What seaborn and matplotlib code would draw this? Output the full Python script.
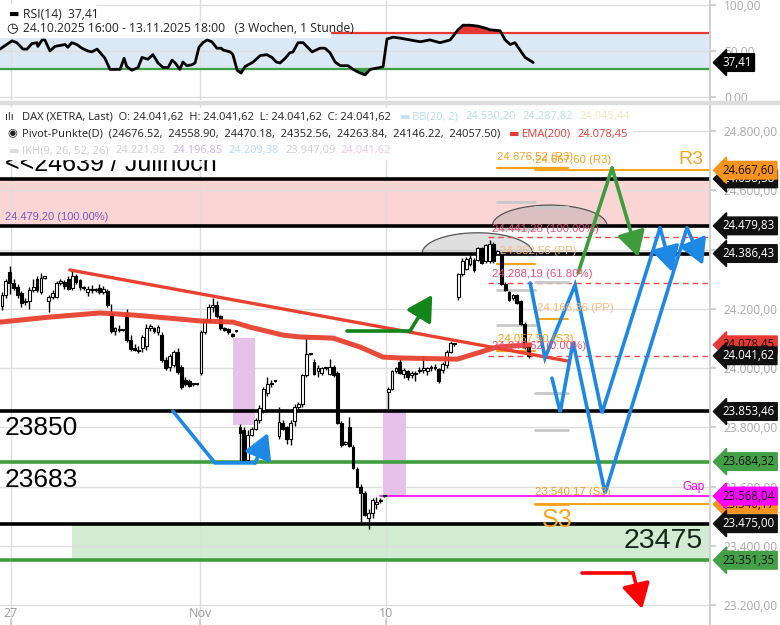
import numpy as np
import pandas as pd
import matplotlib
matplotlib.use("Agg")
import matplotlib.pyplot as plt
import matplotlib.transforms as mtrans
from matplotlib.patches import Rectangle, Polygon
import seaborn as sns

# hourly candles 24.10.2025 16:00 - 13.11.2025 18:00 (bar index = x)
opens = [24210, 24245, 24325, 24287, 24273, 24253, 24222, 24225, 24262, 24300,
         24257, 24305, 24225, 24240, 24240, 24288, 24292, 24302, 24270, 24310,
         24296, 24272, 24256, 24268, 24262, 24270, 24255, 24260, 24186, 24124,
         24132, 24128, 24186, 24095, 24068, 24062, 24068, 24075, 24135, 24134,
         24120, 24110, 24027, 24002, 24012, 24054, 24003, 23960, 23958, 23945,
         23947, 23983, 24122, 24160, 24205, 24213, 24175, 24135, 24132, 24115,
         24125, 23800, 23790, 23690, 23775, 23795, 23825, 23858, 23915, 23945,
         23955, 23770, 23815, 23800, 23760, 23820, 23870, 23880, 23975, 24046,
         24020, 23990, 23985, 24000, 23980, 24003, 23985, 23815, 23745, 23800,
         23735, 23660, 23600, 23580, 23495, 23510, 23540, 23550, 23567, 23920,
         23930, 23990, 24020, 23980, 23990, 23975, 23980, 23990, 23995, 23990,
         24000, 24005, 23998, 23995, 24010, 24055, 24080, 24240, 24318, 24335,
         24350, 24365, 24365, 24405, 24360, 24360, 24420, 24385, 24385, 24285,
         24255, 24235, 24245, 24225, 24150, 24070]
highs = [24255, 24300, 24345, 24300, 24285, 24260, 24235, 24275, 24300, 24312,
         24320, 24309, 24248, 24262, 24295, 24300, 24298, 24312, 24335, 24316,
         24302, 24278, 24276, 24280, 24270, 24285, 24276, 24266, 24215, 24140,
         24145, 24131, 24200, 24110, 24080, 24075, 24112, 24150, 24150, 24140,
         24145, 24120, 24036, 24046, 24060, 24066, 24010, 23970, 23964, 23950,
         23950, 24130, 24165, 24215, 24236, 24225, 24180, 24140, 24135, 24118,
         24127, 23812, 23800, 23790, 23800, 23830, 23875, 23935, 23970, 23960,
         23957, 23868, 23825, 23805, 23825, 23880, 23885, 23980, 24100, 24048,
         24030, 24010, 24005, 24005, 24030, 24010, 23990, 23820, 23755, 23835,
         23740, 23665, 23610, 23585, 23525, 23560, 23565, 23560, 23569, 23935,
         23995, 24005, 24030, 24000, 23995, 23990, 23990, 24005, 24040, 24005,
         24010, 24015, 24000, 24020, 24060, 24090, 24085, 24320, 24370, 24375,
         24380, 24372, 24410, 24410, 24418, 24432, 24425, 24400, 24390, 24290,
         24260, 24250, 24250, 24230, 24155, 24075]
lows = [24195, 24235, 24250, 24262, 24235, 24205, 24212, 24200, 24255, 24255,
        24250, 24300, 24190, 24232, 24235, 24280, 24268, 24262, 24264, 24284,
        24264, 24265, 24244, 24254, 24255, 24250, 24250, 24205, 24118, 24110,
        24120, 24125, 24088, 24058, 24056, 24050, 24054, 24060, 24126, 24118,
        24110, 24020, 23995, 23990, 24002, 23980, 23930, 23940, 23935, 23941,
        23944, 23975, 24115, 24155, 24190, 24170, 24130, 24124, 24116, 24104,
        24123, 23685, 23683, 23683, 23770, 23790, 23815, 23850, 23905, 23935,
        23953, 23760, 23790, 23745, 23740, 23805, 23860, 23870, 23970, 24044,
        23975, 23970, 23975, 23995, 23975, 23970, 23810, 23735, 23740, 23735,
        23660, 23598, 23480, 23500, 23457, 23495, 23525, 23545, 23566, 23860,
        23925, 23985, 23980, 23965, 23960, 23965, 23955, 23985, 23985, 23975,
        23990, 23995, 23950, 23985, 24000, 24050, 24075, 24230, 24312, 24330,
        24345, 24325, 24360, 24350, 24355, 24355, 24355, 24380, 24280, 24260,
        24225, 24230, 24215, 24145, 24065, 24035]
closes = [24245, 24295, 24287, 24270, 24247, 24220, 24226, 24265, 24275, 24262,
          24305, 24306, 24240, 24252, 24287, 24293, 24276, 24268, 24310, 24290,
          24274, 24270, 24268, 24262, 24266, 24255, 24268, 24213, 24124, 24135,
          24127, 24129, 24095, 24065, 24062, 24058, 24105, 24135, 24142, 24124,
          24140, 24027, 24000, 24040, 24055, 23987, 23936, 23945, 23940, 23946,
          23948, 24122, 24160, 24205, 24212, 24175, 24135, 24130, 24120, 24108,
          24125, 23780, 23690, 23775, 23795, 23825, 23865, 23930, 23945, 23950,
          23955, 23818, 23795, 23760, 23815, 23870, 23880, 23975, 24048, 24046,
          23980, 24000, 24000, 24002, 24003, 23975, 23815, 23740, 23750, 23738,
          23662, 23600, 23580, 23503, 23510, 23555, 23548, 23555, 23568, 23930,
          23990, 24000, 23985, 23992, 23970, 23985, 23983, 23995, 24000, 24000,
          24005, 24000, 23955, 24015, 24055, 24085, 24080, 24318, 24362, 24368,
          24372, 24330, 24405, 24355, 24415, 24420, 24360, 24395, 24285, 24265,
          24230, 24245, 24220, 24150, 24070, 24041.62]

# EMA(200)
ema_x = [-0.5, 12.3, 25.1, 33.6, 42.3, 50.8, 59.2, 63.6, 72.1, 76.4, 84.9,
         91.8, 97.7, 102, 116.7, 126.9, 135.4]
ema_v = [24155, 24172, 24186, 24179, 24169, 24159, 24155, 24138, 24111, 24105,
         24101, 24071, 24037, 24034, 24030, 24071, 24078.45]

# RSI(14)
rsi_x = [-0.5, 0.5, 2.6, 3.8, 5.4, 6.4, 7.7, 9, 9.2, 10.3, 11, 12.3, 13.6, 16.2,
         16.9, 17.9, 19.2, 20.5, 22, 23, 24.4, 25.6, 26.4, 27.7, 30.3, 31.3, 32,
         33.3, 34.9, 35.9, 37.4, 38.7, 40, 41.3, 42.6, 43.6, 44.4, 45.6, 46.4,
         47.4, 48.7, 49.5, 50.5, 51.5, 52.6, 53.8, 55.1, 56.2, 56.7, 58.5, 59.2,
         60.3, 61.3, 62.3, 64.4, 66.2, 67.9, 69.2, 70.3, 71.3, 72.6, 73.8, 74.6,
         75.9, 77.2, 79.5, 81.5, 82.8, 84.1, 85.4, 86.7, 88.7, 90, 91.8, 93.1,
         94.4, 96.9, 97.7, 98.7, 100.3, 102, 104.6, 107.2, 109.7, 112.3, 114.9,
         116.9, 118.2, 120, 122, 123.8, 125.1, 127.7, 129, 130.3, 131.5, 132.8,
         134.1, 136.2]
rsi_v = [52, 55, 61, 59, 52, 52, 58, 59, 55, 62, 62, 50, 55, 57, 54, 59, 57, 53,
         50, 49, 52, 46, 42, 30, 30, 42, 33, 29, 32, 43, 41, 46, 37, 32, 32, 40,
         37, 30, 38, 34, 35, 37, 54, 59, 62, 60, 53, 53, 51, 49, 46, 29, 26, 33,
         38, 45, 46, 43, 38, 37, 42, 48, 49, 59, 59, 49, 53, 53, 48, 38, 34, 34,
         30, 26, 24, 30, 32, 33, 63, 65, 64, 62, 60, 62, 59, 62, 73, 78, 78, 77,
         75, 73, 72, 62, 57, 59, 51, 43, 37.41]

# horizontal levels
black_levels = [24638.38, 24479.83, 24386.43, 23853.46, 23475.00]
green_levels = [23684.32, 23351.35]
pink_zone = (24479.83, 24638.38)
green_zone = (23351.35, 23475.00)
gap_level = 23568.04
fib_levels = [24441.28, 24288.19, 24040.62]
fib_labels = ["24.441,28 (100.00%)", "24.288,19 (61.80%)", "24.040,62 (0.00%)"]

# pivot points, day 1 and day 2
piv1 = [24676.52, 24558.90, 24470.18, 24352.56, 24263.84, 24146.22, 24057.50]
piv2 = [24667.60, 24542.0, 24290.0, 24166.36, 23915.0, 23791.0, 23540.17]

# drawn trend / scenario lines (bar index, price)
trend_x, trend_y = [17.4, 144.9], [24331, 24024]
blue_left_x, blue_left_y = [43.8, 54.6, 64.9, 68.2], [23855, 23680, 23680, 23781]
green_small_x, green_small_y = [88.5, 104.6, 110.3], [24125, 24125, 24247]
blue_a_x = [135.4, 139.2, 146.9, 153.8, 168.7, 171.8]
blue_a_y = [24287, 24034, 24280, 23848, 24473, 24324]
blue_b_x = [141.0, 143.1, 146.4, 154.6, 175.6, 179.7]
blue_b_y = [23966, 23852, 24088, 23578, 24473, 24348]
green_big_x, green_big_y = [147.7, 156.4, 163.1], [24321, 24675, 24375]
red_x, red_y = [148.7, 161.8, 164.1], [23308, 23308, 23187]

# price tags on the right axis
tag_vals = [24638.38, 24667.60, 24479.83, 24386.43, 24078.45, 24041.62, 23853.46,
            23684.32, 23540.17, 23568.04, 23475.00, 23351.35]
tag_cols = ["#111111", "#f7931e", "#111111", "#111111", "#e53935", "#111111",
            "#111111", "#43a047", "#f7931e", "#ff00ff", "#111111", "#43a047"]

tick_pos = [2.3, 50.8, 98.5]
tick_lab = ["27", "Nov", "10"]


def de(v):
    return f"{v:,.2f}".replace(",", "X").replace(".", ",").replace("X", ".")


sns.set_theme(style="white")
plt.rcParams["font.family"] = ["Open Sans", "DejaVu Sans"]

W, H = 780, 625
fig = plt.figure(figsize=(7.8, 6.25), dpi=100)


def box(l, t, r, b):
    return [l / W, 1 - b / H, (r - l) / W, (b - t) / H]


ax_r = fig.add_axes(box(0, 0, 710, 100))
ax = fig.add_axes(box(0, 104, 710, 625))
XL = (-0.5, 181.5)
tag_box = "larrow,pad=0.2"
tag_fs = 8.3
tag_x = 1.018

# ---------- RSI panel ----------
ax_r.set_xlim(*XL)
ax_r.set_ylim(-3.3, 105.4)
ax_r.fill_between(XL, 30, 70, color="#dbe8f6", zorder=0)
ax_r.axhline(70, color="#e53935", lw=1.6, zorder=1)
ax_r.axhline(30, color="#43a047", lw=1.6, zorder=1)
rv = np.array(rsi_v)
ax_r.fill_between(rsi_x, rv, 70, where=rv > 70, interpolate=True, color="#e53935", zorder=1)
ax_r.fill_between(rsi_x, rv, 30, where=rv < 30, interpolate=True, color="#43a047", zorder=1)
sns.lineplot(x=rsi_x, y=rsi_v, ax=ax_r, color="black", lw=2, zorder=3)
ax_r.set_yticks([0, 50, 100])
ax_r.set_yticklabels(["0,00", "50,00", "100,00"])
ax_r.set_xticks(tick_pos)
ax_r.set_xticklabels([])
ax_r.text(tag_x, 37.41, "37,41", transform=mtrans.blended_transform_factory(ax_r.transAxes, ax_r.transData),
          color="white", fontsize=tag_fs, va="center", ha="left", zorder=10, clip_on=False,
          bbox=dict(boxstyle=tag_box, fc="black", ec="black"))

# ---------- main panel ----------
ax.set_xlim(*XL)
ax.set_ylim(23133, 24891)

ax.axhspan(*pink_zone, color="#fbd4d4", zorder=0.5, lw=0)
ax.fill_between([18, XL[1]], green_zone[0], green_zone[1], color="#d1ecd1", zorder=0.5, lw=0)
ax.add_patch(Rectangle((59.2, 23808), 5.7, 293, color="#e6c2ea", zorder=0.6, lw=0))
ax.add_patch(Rectangle((97.7, 23568), 5.9, 294, color="#e6c2ea", zorder=0.6, lw=0))

# arcs
for cx, hw, base, hgt in [(121.9, 14.2, 24386.43, 70), (140.4, 14.7, 24479.83, 70)]:
    t = np.linspace(0, np.pi, 80)
    pts = np.column_stack([cx + hw * np.cos(t), base + hgt * np.sin(t)])
    ax.add_patch(Polygon(pts, closed=True, fc="#8c8c8c", alpha=0.28, ec="none", zorder=1))
    ax.plot(pts[:, 0], pts[:, 1], color="#555555", lw=0.9, zorder=1.1)

for v in black_levels:
    ax.axhline(v, color="black", lw=2.6, zorder=2)
for v in green_levels:
    ax.axhline(v, color="#3f9f3f", lw=2.6, zorder=2)
ax.plot([97.0, XL[1]], [gap_level] * 2, color="#ff00ff", lw=1.2, zorder=2)
for v in fib_levels:
    ax.plot([124.6, XL[1]], [v, v], color="#f04848", lw=1, ls=(0, (4, 3)), zorder=2)

# pivot segments
d1, d2, d2e = 126.9, 136.7, 145.1
for k, v in enumerate(piv1):
    orange = k in (0, 3, 6)
    ax.plot([d1, d2e if k == 0 else d2], [v, v], color="#f7a21b" if orange else "#c9c9c9",
            lw=1.6 if orange else 2, zorder=2.2)
for k, v in enumerate(piv2):
    orange = k in (0, 3, 6)
    x1 = XL[1] if k in (0, 6) else d2e
    ax.plot([d2 if k != 3 else d2 + 1, x1], [v, v], color="#f7a21b" if orange else "#c9c9c9",
            lw=1.4 if orange else 2, zorder=2.2)
ax.plot([d2, d2e], [piv2[6], piv2[6]], color="#f7a21b", lw=2, zorder=2.2)

# candles
df = pd.DataFrame(dict(o=opens, h=highs, l=lows, c=closes))
df["i"] = np.arange(len(df))
up = df.c >= df.o
bot = np.minimum(df.o, df.c)
hgt = np.maximum((df.c - df.o).abs(), 4)
ax.vlines(df.i, df.l, df.h, color="black", lw=1, zorder=3)
ax.bar(df.i[up], hgt[up], bottom=bot[up], width=0.72, color="white", edgecolor="black", lw=0.8, zorder=3.5)
ax.bar(df.i[~up], hgt[~up], bottom=bot[~up], width=0.72, color="black", edgecolor="black", lw=0.8, zorder=3.5)

# EMA and trendline
sns.lineplot(x=ema_x, y=ema_v, ax=ax, color="#e8412f", lw=3.6, zorder=4, alpha=0.95)
ax.plot(trend_x, trend_y, color="#e8412f", lw=2.4, zorder=4)


def arrow_path(xs, ys, col):
    ax.plot(xs[:-1], ys[:-1], color=col, lw=2.6, zorder=5, solid_joinstyle="miter")
    ax.annotate("", xy=(xs[-1], ys[-1]), xytext=(xs[-2], ys[-2]), zorder=5,
                arrowprops=dict(arrowstyle="-|>,head_length=0.8,head_width=0.45", color=col,
                                lw=2.6, shrinkA=0, shrinkB=0, mutation_scale=19))


arrow_path(blue_left_x, blue_left_y, "#1e88e5")
arrow_path(green_small_x, green_small_y, "#13861b")
arrow_path(blue_a_x, blue_a_y, "#1e88e5")
arrow_path(blue_b_x, blue_b_y, "#1e88e5")
arrow_path(green_big_x, green_big_y, "#3d9d3d")
arrow_path(red_x, red_y, "#ff0000")

# chart texts
big = ["Liberation Sans", "DejaVu Sans"]
ax.text(0.8, 24688, "<<24639 / Julihoch", fontsize=18, family=big, va="center", color="black", zorder=6)
ax.text(0.8, 23797, "23850", fontsize=19, family=big, va="center", color="black", zorder=6)
ax.text(0.8, 23622, "23683", fontsize=19, family=big, va="center", color="black", zorder=6)
ax.text(179.7, 23416, "23475", fontsize=20.5, family=big, va="center", ha="right", color="#15261a", zorder=6)
ax.text(138.5, 23487, "S3", fontsize=18, family=big, va="center", color="#f5a623", zorder=6)
ax.text(179.7, 24705, "R3", fontsize=14, family=big, va="center", ha="right", color="#f5a623", zorder=6)
ax.text(174.4, 23598, "Gap", fontsize=8.5, family=big, va="center", color="#ff00ff", zorder=6)
ax.text(0.8, 24510, "24.479,20 (100.00%)", fontsize=8, family=big, va="center", color="#7e57c2", zorder=6)
sm = dict(fontsize=8.2, family=big, va="center", zorder=6)
ax.text(126.9, 24712, "24.676,52 (R3)", color="#f7a21b", **sm)
ax.text(136.7, 24702, "24.667,60 (R3)", color="#f7a21b", **sm)
ax.text(127.7, 24395, "24.352,56 (PP)", color="#f9b878", **sm)
ax.text(137.2, 24203, "24.166,36 (PP)", color="#f9b878", **sm)
ax.text(127.2, 24098, "24.057,50 (S3)", color="#f7a21b", **sm)
ax.text(136.7, 23581, "23.540,17 (S3)", color="#f7a21b", **sm)
for v, s, yy in zip(fib_levels, fib_labels, [24469, 24317, 24074]):
    ax.text(125.7, yy, s, color="#e8507a", **sm)

# axes styling
for a in (ax, ax_r):
    a.yaxis.tick_right()
    for s in ("top", "left", "bottom"):
        a.spines[s].set_visible(False)
    a.spines["right"].set_color("#cccccc")
    a.tick_params(axis="y", colors="#cccccc", labelcolor="#aaaaaa", labelsize=8.6, length=4, pad=6)
    a.grid(True, color="#dedede", lw=1)
    a.set_axisbelow(True)
ax.set_yticks(np.arange(23200, 24801, 200))
ax.set_yticklabels([de(v) for v in np.arange(23200, 24801, 200)])
ax.set_xticks(tick_pos)
ax.set_xticklabels(tick_lab)
ax.tick_params(axis="x", colors="#cccccc", labelcolor="#999999", labelsize=9, direction="in",
               pad=-13, length=4, bottom=True)
ax_r.tick_params(axis="x", length=0)

tr = mtrans.blended_transform_factory(ax.transAxes, ax.transData)
for v, c in zip(tag_vals, tag_cols):
    fg = "white" if c == "#111111" else "#111111"
    ax.text(tag_x, v, de(v), transform=tr, color=fg, fontsize=tag_fs, va="center", ha="left",
            zorder=10, clip_on=False, bbox=dict(boxstyle=tag_box, fc=c, ec=c))

# panel separator
fig.patches.append(Rectangle((0, 1 - 104 / H), 1, 3 / H, transform=fig.transFigure,
                             color="#dddddd", zorder=4))


# legend headers with white backgrounds
def bg(l, t, r, b):
    fig.patches.append(Rectangle((l / W, 1 - b / H), (r - l) / W, (b - t) / H,
                                 transform=fig.transFigure, color="white", zorder=5))


def ft(x, y, s, c="#222222", fs=8.0):
    fig.text(x / W, 1 - y / H, s, color=c, fontsize=fs, va="center", ha="left", zorder=6)


bg(0, 4, 95, 22)
bg(0, 22, 330, 37)
ft(9, 14, "\u25ac", "black", 8)
ft(23, 14, "RSI(14)  37,41", fs=8.7)
ft(6, 29, "\u25f7", "black", 9.5)
ft(23, 29, "24.10.2025 16:00 - 13.11.2025 18:00   (3 Wochen, 1 Stunde)", fs=8.7)

bg(0, 108, 632, 143)
bg(0, 143, 393, 159)
ft(5, 117, "\u0131l\u0131")
ft(22, 117, "DAX (XETRA, Last)  O: 24.041,62  H: 24.041,62  L: 24.041,62  C: 24.041,62")
ft(400, 117, "\u25ac", "#c6e2f5")
ft(412, 117, "BB(20, 2)", "#b9daf0")
ft(465, 117, "24.530,20", "#b3dbf2")
ft(522, 117, "24.287,82", "#b5e2d9")
ft(579, 117, "24.045,44", "#f6e6bd")
ft(7, 134, "\u25c9")
ft(22, 134, "Pivot-Punkte(D)  (24676.52,  24558.90,  24470.18,  24352.56,  24263.84,  24146.22,  24057.50)")
ft(509, 134, "\u25ac", "#e53935")
ft(522, 134, "EMA(200)", "#e53935")
ft(577, 134, "24.078,45", "#e53935")
ft(9, 151, "\u25ac", "#dddddd")
ft(22, 151, "IKH(9, 26, 52, 26)", "#cccccc")
ft(115, 151, "24.221,92", "#cfcfcf")
ft(172, 151, "24.196,85", "#cdb4ec")
ft(228, 151, "24.209,38", "#b7dcf0")
ft(285, 151, "23.947,09", "#cfcfcf")
ft(340, 151, "24.041,62", "#ecc8dc")

fig.savefig("out.png", dpi=100)
